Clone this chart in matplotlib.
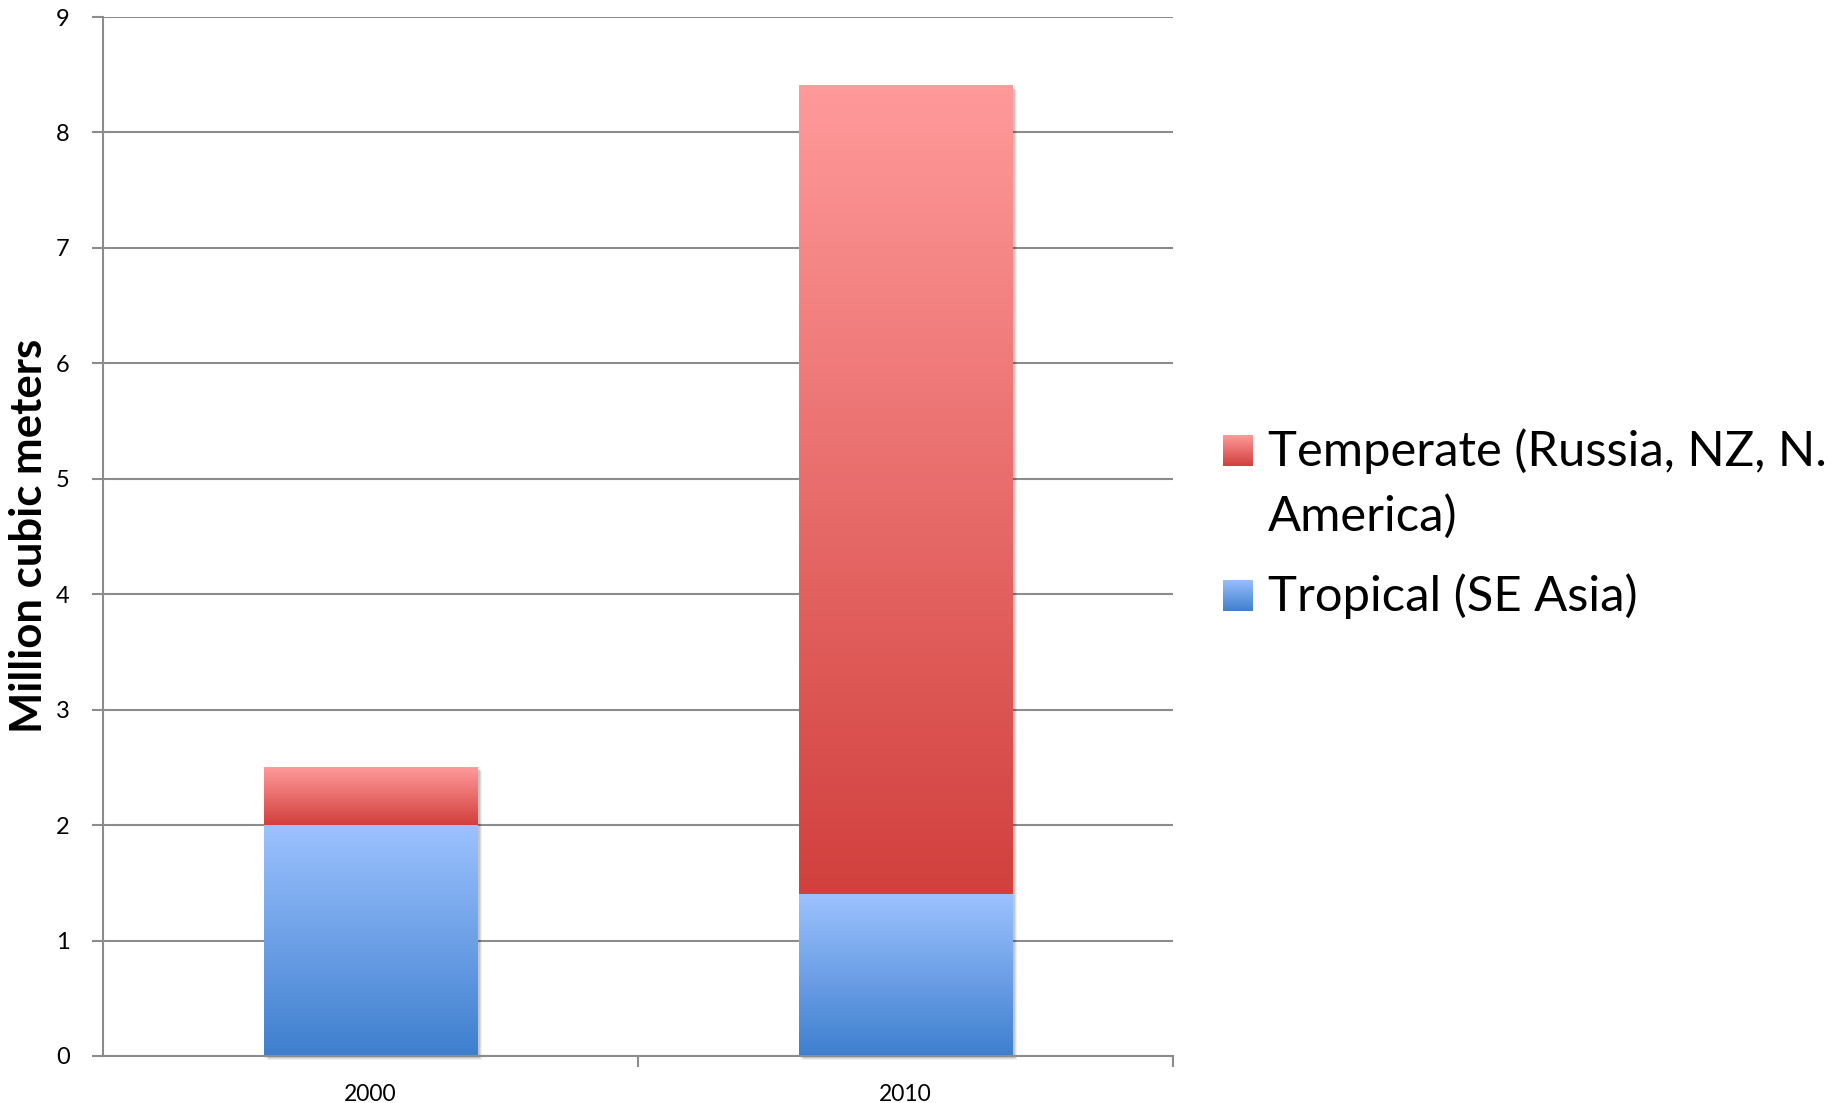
import numpy as np
import matplotlib
matplotlib.use('Agg')
import matplotlib.pyplot as plt
import matplotlib.transforms as mtransforms
from matplotlib.patches import Rectangle
from matplotlib.colors import LinearSegmentedColormap

plt.rcParams['font.family'] = ['Lato', 'DejaVu Sans']

# data
years = ['2000', '2010']
tropical = [2.0, 1.4]
temperate = [0.5, 7.0]
series_names = ['Temperate (Russia, NZ, N.', 'America)', 'Tropical (SE Asia)']

W, H = 1841, 1103
fig = plt.figure(figsize=(W / 100, H / 100), dpi=100)
ax = fig.add_axes([103 / W, (H - 1056) / H, 1070 / W, 1039 / H])

red_cm = LinearSegmentedColormap.from_list('red', ['#D1403D', '#FF9A9A'])
blue_cm = LinearSegmentedColormap.from_list('blue', ['#3E7FCE', '#9CC2FF'])
grad = np.linspace(0, 1, 256).reshape(-1, 1)

bw = 0.4
x = np.arange(len(years))


def gradbar(xc, y0, y1, cmap):
    ax.imshow(grad, extent=[xc - bw / 2, xc + bw / 2, y0, y1], aspect='auto',
              origin='lower', cmap=cmap, zorder=3, interpolation='bilinear')


# soft shadow behind the bars
for k, a in [(4, 0.06), (3, 0.08), (2, 0.1)]:
    shadow_tr = mtransforms.offset_copy(ax.transData, fig=fig, x=k, y=-k, units='dots')
    for i in x:
        ax.add_patch(Rectangle((i - bw / 2, 0), bw, tropical[i] + temperate[i],
                               transform=shadow_tr, color='black', alpha=a,
                               lw=0, zorder=2, clip_on=False))

for i in x:
    gradbar(i, 0, tropical[i], blue_cm)
    gradbar(i, tropical[i], tropical[i] + temperate[i], red_cm)

ax.set_xlim(-0.5, 1.5)
ax.set_ylim(0, 9)
ax.set_yticks(range(10))
ax.set_xticks(x)
ax.set_xticklabels(years)
ax.set_xticks([0.5, 1.5], minor=True)
ax.tick_params(axis='x', which='major', length=0, pad=20, labelsize=16.5)
ax.tick_params(axis='x', which='minor', length=8, width=1.5, color='#8c8c8c')
ax.tick_params(axis='y', length=8, width=1.5, color='#8c8c8c', pad=16, labelsize=17)
ax.yaxis.grid(True, color='#8c8c8c', lw=1.5, zorder=0)
ax.set_axisbelow(True)
for s in ['top', 'right']:
    ax.spines[s].set_visible(False)
for s in ['left', 'bottom']:
    ax.spines[s].set_color('#8c8c8c')
    ax.spines[s].set_linewidth(1.5)
    ax.spines[s].set_zorder(4)

fig.text(29 / W, 1 - 536 / H, 'Million cubic meters', rotation=90, fontsize=31.5,
         fontweight='bold', ha='center', va='center')

# legend drawn by hand so the swatches keep the gradient
for (top, cmap) in [(435, red_cm), (580, blue_cm)]:
    lax = fig.add_axes([1223 / W, 1 - (top + 31) / H, 30 / W, 31 / H])
    lax.imshow(grad, aspect='auto', origin='lower', cmap=cmap)
    lax.axis('off')

for label, base in zip(series_names, [466, 531, 611]):
    fig.text(1268 / W, 1 - base / H, label, fontsize=35.3, va='baseline', ha='left')

fig.savefig('out.png', dpi=100)
